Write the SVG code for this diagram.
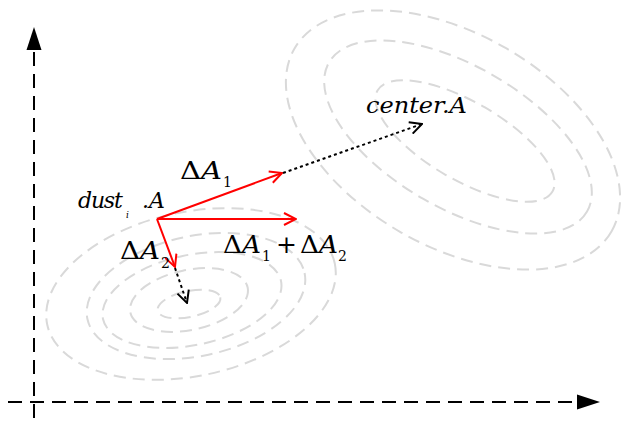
<svg xmlns="http://www.w3.org/2000/svg" width="621" height="421" viewBox="0 0 621 421">
<defs>
<style>
.ring{fill:none;stroke:#d9d9d9;stroke-width:2;stroke-dasharray:12 7}
.axis{fill:none;stroke:#000;stroke-width:2;stroke-dasharray:14 8}
.red{fill:none;stroke:#ff0000;stroke-width:2}
.dot{fill:none;stroke:#000;stroke-width:2;stroke-dasharray:3 3}
.lbl{font-family:"DejaVu Serif","Liberation Serif",serif;font-style:italic;fill:#000}
.up{font-style:normal}
</style>
<marker id="redHead" viewBox="0 0 14 14" refX="13" refY="7" markerWidth="14" markerHeight="14" markerUnits="userSpaceOnUse" orient="auto">
<path d="M1,1 L13,7 L1,13" fill="none" stroke="#ff0000" stroke-width="2"/>
</marker>
<marker id="blackHead" viewBox="0 0 14 14" refX="13" refY="7" markerWidth="14" markerHeight="14" markerUnits="userSpaceOnUse" orient="auto">
<path d="M1,1 L13,7 L1,13" fill="none" stroke="#000" stroke-width="2"/>
</marker>
</defs>
<g id="cluster-upper">
<ellipse class="ring" cx="453" cy="140" rx="183" ry="106" transform="rotate(30 453 140)"/>
<ellipse class="ring" cx="458" cy="137" rx="149" ry="71" transform="rotate(30 458 137)"/>
<ellipse class="ring" cx="465" cy="141" rx="101" ry="39" transform="rotate(30 465 141)"/>
</g>
<g id="cluster-lower">
<ellipse class="ring" cx="191" cy="294" rx="147" ry="82" transform="rotate(-12 191 294)"/>
<ellipse class="ring" cx="196" cy="296" rx="111" ry="60" transform="rotate(-12 196 296)"/>
<ellipse class="ring" cx="192" cy="300" rx="91" ry="45" transform="rotate(-12 192 300)"/>
<ellipse class="ring" cx="189" cy="300" rx="60" ry="30" transform="rotate(-12 189 300)"/>
<ellipse class="ring" cx="189" cy="304" rx="32" ry="13" transform="rotate(-12 189 304)"/>
</g>
<g id="axes">
<line class="axis" x1="34" y1="418" x2="34" y2="50"/>
<path d="M34,27 L26.5,50 L41.5,50 Z" fill="#000"/>
<line class="axis" x1="8" y1="402" x2="577" y2="402"/>
<path d="M600,402 L577,394.5 L577,409.5 Z" fill="#000"/>
</g>
<g id="connectors">
<line class="red" x1="157" y1="219" x2="282" y2="173" marker-end="url(#redHead)"/>
<line class="red" x1="157" y1="219" x2="296" y2="219" marker-end="url(#redHead)"/>
<line class="red" x1="157" y1="219" x2="175" y2="267" marker-end="url(#redHead)"/>
<line class="dot" x1="283" y1="173" x2="422" y2="124" marker-end="url(#blackHead)"/>
<line class="dot" x1="175" y1="268" x2="187" y2="303" marker-end="url(#blackHead)"/>
</g>
<g id="label-center">
<text class="lbl" x="366" y="113" font-size="23" textLength="101" lengthAdjust="spacingAndGlyphs">center.A</text>
</g>
<g id="label-dust">
<text class="lbl" x="78" y="208" font-size="22"><tspan letter-spacing="-1.2">dust</tspan><tspan x="126" y="218" font-size="9">i</tspan><tspan x="142" y="208">.A</tspan></text>
</g>
<g id="label-dA1">
<text class="lbl" x="180" y="179" font-size="25" textLength="42" lengthAdjust="spacingAndGlyphs"><tspan class="up">Δ</tspan>A</text>
<text class="lbl up" x="223" y="187" font-size="14">1</text>
</g>
<g id="label-dA2">
<text class="lbl" x="120" y="259" font-size="25" textLength="40" lengthAdjust="spacingAndGlyphs"><tspan class="up">Δ</tspan>A</text>
<text class="lbl up" x="161" y="268" font-size="14">2</text>
</g>
<g id="label-sum">
<text class="lbl" x="223" y="253" font-size="25" textLength="38" lengthAdjust="spacingAndGlyphs"><tspan class="up">Δ</tspan>A</text>
<text class="lbl up" x="262" y="261" font-size="14">1</text>
<text class="lbl up" x="276" y="253" font-size="25">+</text>
<text class="lbl" x="300" y="253" font-size="25" textLength="38" lengthAdjust="spacingAndGlyphs"><tspan class="up">Δ</tspan>A</text>
<text class="lbl up" x="338" y="261" font-size="14">2</text>
</g>
</svg>
